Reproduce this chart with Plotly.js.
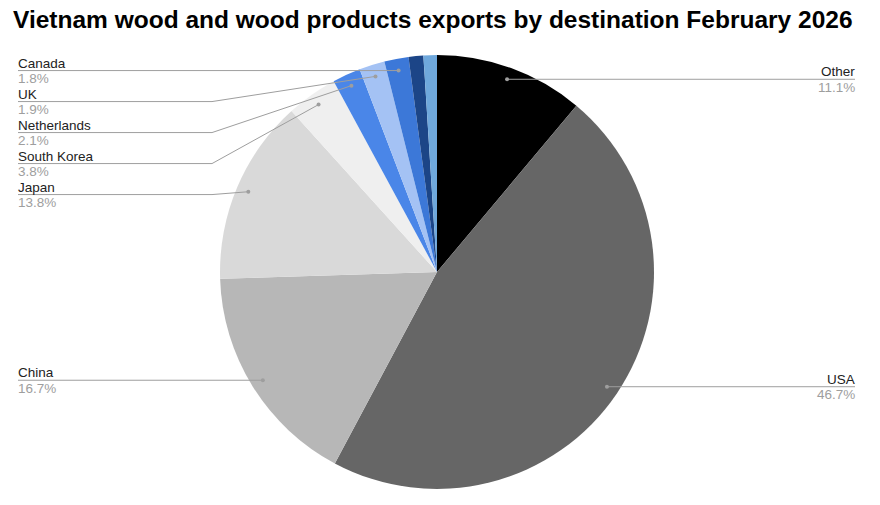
<!DOCTYPE html>
<html>
<head>
<meta charset="utf-8">
<script src="https://cdn.plot.ly/plotly-3.0.1.min.js"></script>
<style>html,body{margin:0;padding:0;background:#fff}#chart{width:880px;height:505px}</style>
</head>
<body>
<div id="chart"></div>
<script>
// Data
const labels = ["Other", "USA", "China", "Japan", "South Korea", "Netherlands", "UK", "Canada", "Unlabeled A", "Unlabeled B"];
const values = [11.1, 46.7, 16.7, 13.8, 3.8, 2.1, 1.9, 1.8, 1.1, 1.0];
const colors = ["#000000", "#666666", "#b7b7b7", "#d9d9d9", "#efefef", "#4a86e8", "#a4c2f4", "#3c78d8", "#1c4587", "#6fa8dc"];
const shownLabels = ["Other", "USA", "China", "Japan", "South Korea", "Netherlands", "UK", "Canada"];

const W = 880, H = 505;
const cx = 437, cy = 272, R = 217;

const px = x => x / W;
const py = y => 1 - y / H;

const total = values.reduce((a, b) => a + b, 0);
let cum = 0;
const mids = values.map(v => { const m = (cum + v / 2) / total; cum += v; return m; });

const shapes = [], annotations = [];
const lineColor = "#9e9e9e";
const fontName = {family: "Liberation Sans, Arial", size: 13.5, color: "#222"};
const fontPct = {family: "Liberation Sans, Arial", size: 13.5, color: "#9e9e9e"};
function addText(x, ly, anchor, name, pct) {
  annotations.push({xref: "paper", yref: "paper", x: px(x), y: py(ly + 1), xanchor: anchor, yanchor: "bottom", text: name, showarrow: false, borderpad: 0, font: fontName});
  annotations.push({xref: "paper", yref: "paper", x: px(x), y: py(ly - 0.5), xanchor: anchor, yanchor: "top", text: pct, showarrow: false, borderpad: 0, font: fontPct});
}
const leftLabels = [];
labels.forEach((lab, i) => {
  if (!shownLabels.includes(lab)) return;
  const th = mids[i] * 2 * Math.PI;
  const dx = cx + 0.945 * R * Math.sin(th);
  const dy = cy - 0.945 * R * Math.cos(th);
  const pct = (values[i] / total * 100).toFixed(1) + "%";
  if (Math.sin(th) >= 0) {
    shapes.push({type: "line", xref: "paper", yref: "paper", x0: px(dx), y0: py(dy), x1: px(855), y1: py(dy), line: {color: lineColor, width: 1}});
    shapes.push({type: "circle", xref: "paper", yref: "paper", x0: px(dx - 2), x1: px(dx + 2), y0: py(dy - 2), y1: py(dy + 2), fillcolor: lineColor, line: {width: 0}});
    addText(856, dy, "right", lab, pct);
  } else {
    leftLabels.push({lab, dx, dy, pct});
  }
});
// stack left labels from top
const lefts = leftLabels.sort((a, b) => a.dy - b.dy);
let prev = -1e9;
lefts.forEach(o => {
  const ly = Math.max(o.dy, prev + 31);
  prev = ly;
  shapes.push({type: "path", xref: "paper", yref: "paper",
    path: `M ${px(18)} ${py(ly)} L ${px(212)} ${py(ly)} L ${px(o.dx)} ${py(o.dy)}`,
    line: {color: lineColor, width: 1}});
  shapes.push({type: "circle", xref: "paper", yref: "paper", x0: px(o.dx - 2), x1: px(o.dx + 2), y0: py(o.dy - 2), y1: py(o.dy + 2), fillcolor: lineColor, line: {width: 0}});
  addText(17, ly, "left", o.lab, o.pct);
});

const trace = {
  type: "pie",
  labels: labels,
  values: values,
  sort: false,
  direction: "clockwise",
  rotation: 0,
  textinfo: "none",
  hoverinfo: "label+percent",
  marker: {colors: colors, line: {width: 0}},
  domain: {x: [px(cx - R), px(cx + R)], y: [py(cy + R), py(cy - R)]},
  showlegend: false
};

const layout = {
  width: W, height: H,
  margin: {l: 0, r: 0, t: 0, b: 0},
  paper_bgcolor: "#fff",
  title: {text: "<b>Vietnam wood and wood products exports by destination February 2026</b>",
    x: 13 / W, xanchor: "left", xref: "container", y: 1 - 19 / H, yanchor: "middle", yref: "container",
    font: {family: "Liberation Sans, Arial", size: 24.5, color: "#000"}},
  shapes: shapes,
  annotations: annotations
};

Plotly.newPlot("chart", [trace], layout, {displayModeBar: false, staticPlot: true});
</script>
</body>
</html>
